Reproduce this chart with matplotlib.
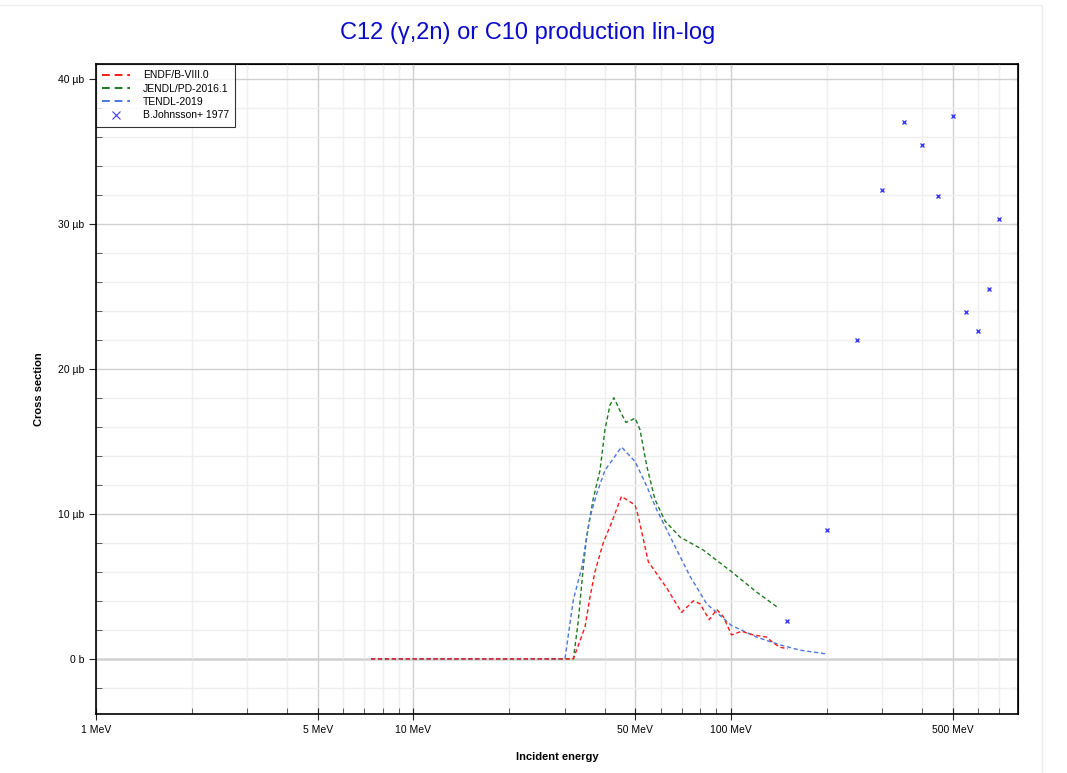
import numpy as np
import matplotlib
matplotlib.use('Agg')
import matplotlib.pyplot as plt
from matplotlib.ticker import FixedLocator, FuncFormatter, NullFormatter
from matplotlib.patches import Rectangle
from matplotlib.lines import Line2D

plt.rcParams['font.family'] = ['Liberation Sans', 'DejaVu Sans']

# ENDF/B-VIII.0 (energy in MeV, cross section in microbarn)
endf_e = [7.35, 31.9, 34.7, 36.0, 37.3, 39.6, 42.1, 45.2, 49.9, 51.1, 54.9, 62.7,
          69.9, 76.1, 79.9, 85.5, 90.2, 94.7, 100.4, 108, 117.6, 129.5, 136, 142.6, 151]
endf_xs = [0, 0, 2.2, 4.3, 6.0, 8.0, 9.4, 11.2, 10.6, 9.8, 6.7, 4.9,
           3.2, 4.0, 3.8, 2.7, 3.4, 2.9, 1.65, 1.9, 1.65, 1.5, 1.1, 0.8, 0.7]

# JENDL/PD-2016.1
jendl_e = [7.35, 31.9, 33.0, 34.3, 35.1, 36.8, 38.7, 40.1, 41.6, 42.8, 44.7, 46.7,
           48.1, 49.9, 51.7, 54.3, 57.6, 62.0, 69.1, 81.8, 100.5, 120.5, 139.3]
jendl_xs = [0, 0, 2.5, 6.4, 8.4, 11.0, 13.0, 15.8, 17.5, 18.0, 17.1, 16.3,
            16.4, 16.6, 15.8, 13.3, 11.0, 9.5, 8.4, 7.5, 6.0, 4.6, 3.6]

# TENDL-2019
tendl_e = [7.35, 30.0, 31.9, 33.9, 36.0, 37.8, 40.1, 42.6, 45.2, 49.9, 54.3, 58.3,
           65.8, 74.3, 83.8, 100.4, 120.5, 142.6, 165, 200]
tendl_xs = [0, 0, 4.1, 6.3, 9.8, 11.4, 13.0, 13.8, 14.6, 13.6, 11.9, 10.3,
            8.0, 5.7, 3.8, 2.3, 1.5, 0.97, 0.6, 0.34]

# B.Johnsson+ 1977 measurements
exp_e = [150, 200, 250, 300, 350, 400, 450, 500, 550, 600, 650, 700]
exp_xs = [2.6, 8.9, 22.0, 32.3, 37.0, 35.4, 31.9, 37.4, 23.9, 22.6, 25.5, 30.3]

x_major = [1, 5, 10, 50, 100, 500]
x_minor = [2, 3, 4, 6, 7, 8, 9, 20, 30, 40, 60, 70, 80, 90, 200, 300, 400, 600, 700, 800]

colors = {'endf': '#ff1a1a', 'jendl': '#1e7a1e', 'tendl': '#4a76e0', 'exp': '#3a3aff'}


def fmt_energy(v, pos):
    return '%d MeV' % round(v)


def fmt_xs(v, pos):
    if abs(v) < 1e-9:
        return '0 b'
    return '%d µb' % round(v)


def main():
    fig = plt.figure(figsize=(10.67, 7.73), dpi=100)
    fig.patches.append(Rectangle((-0.01, -0.01), 1042 / 1067 + 0.01, 1 - 4.5 / 773 + 0.01,
                                 transform=fig.transFigure, fill=False,
                                 edgecolor='#eeeeee', linewidth=1.0))
    ax = fig.add_axes([96 / 1067, 1 - 714 / 773, (1018 - 96) / 1067, (714 - 64) / 773])

    ax.set_xscale('log')
    ax.set_xlim(1, 802)
    ax.set_ylim(-3.8, 41.0)

    # grid
    ax.xaxis.set_major_locator(FixedLocator(x_major))
    ax.xaxis.set_minor_locator(FixedLocator(x_minor))
    ax.xaxis.set_major_formatter(FuncFormatter(fmt_energy))
    ax.xaxis.set_minor_formatter(NullFormatter())
    ax.yaxis.set_major_locator(FixedLocator([0, 10, 20, 30, 40]))
    ax.yaxis.set_minor_locator(FixedLocator([v for v in range(-2, 41, 2) if v % 10 != 0]))
    ax.yaxis.set_major_formatter(FuncFormatter(fmt_xs))

    ax.grid(which='major', color='#d0d0d0', linewidth=1.0, zorder=0)
    ax.grid(which='minor', color='#efefef', linewidth=1.0, zorder=0)
    ax.axhline(0, color='#dcdcdc', linewidth=2.0, zorder=0.5)

    ax.plot(jendl_e, jendl_xs, color=colors['jendl'], linestyle=(0, (3, 2)), linewidth=1.0, zorder=2)
    ax.plot(tendl_e, tendl_xs, color=colors['tendl'], linestyle=(0, (3, 2)), linewidth=1.0, zorder=2)
    ax.plot(endf_e, endf_xs, color=colors['endf'], linestyle=(0, (3, 2)), linewidth=1.0, zorder=3)
    ax.plot(exp_e, exp_xs, linestyle='none', marker='x', markersize=3.3, markeredgewidth=1.0,
            color=colors['exp'], zorder=4)

    ax.tick_params(axis='both', which='major', labelsize=7.5, color='#222222', length=5)
    ax.tick_params(axis='x', which='major', direction='inout', length=8, pad=4)
    ax.tick_params(axis='y', which='major', direction='out', length=5)
    ax.tick_params(axis='both', which='minor', direction='in', length=4, color='#444444')
    for side in ax.spines.values():
        side.set_linewidth(1.2)

    # inward ticks on top and right
    ax2 = ax.secondary_xaxis('top')
    ax2.xaxis.set_major_locator(FixedLocator(x_major + x_minor))
    ax2.tick_params(direction='in', length=4, labeltop=False, color='#444444')
    ax3 = ax.secondary_yaxis('right')
    ax3.yaxis.set_major_locator(FixedLocator(list(range(-2, 41, 2))))
    ax3.tick_params(direction='in', length=4, labelright=False, color='#444444')

    # title is centred on the figure, not on the axes
    fig.text(528 / 1067, 1 - 33 / 773, 'C12 (γ,2n) or C10 production lin-log',
             color='#0a0acc', fontsize=17, ha='center', va='center')
    ax.set_xlabel('Incident energy', fontsize=8, fontweight='bold', labelpad=12)
    ax.set_ylabel('Cross section', fontsize=8, fontweight='bold', labelpad=10)

    # legend proxies (legend dashes are drawn bolder than the curves)
    handles = [
        Line2D([], [], color=colors['endf'], linestyle=(0, (4, 2.5)), linewidth=1.4),
        Line2D([], [], color=colors['jendl'], linestyle=(0, (4, 2.5)), linewidth=1.4),
        Line2D([], [], color=colors['tendl'], linestyle=(0, (4, 2.5)), linewidth=1.4),
        Line2D([], [], color=colors['exp'], linestyle='none', marker='x',
               markersize=6, markeredgewidth=0.8),
    ]
    labels = ['ENDF/B-VIII.0', 'JENDL/PD-2016.1', 'TENDL-2019', 'B.Johnsson+ 1977']
    leg = ax.legend(handles, labels, loc='upper left', fontsize=7.5, frameon=True,
                    fancybox=False, borderaxespad=0, handlelength=2.7, handletextpad=1.2,
                    borderpad=0.6, labelspacing=0.32)
    leg.get_frame().set_edgecolor('black')
    leg.get_frame().set_linewidth(0.8)

    fig.savefig('out.png', dpi=100)


if __name__ == "__main__":
    main()
